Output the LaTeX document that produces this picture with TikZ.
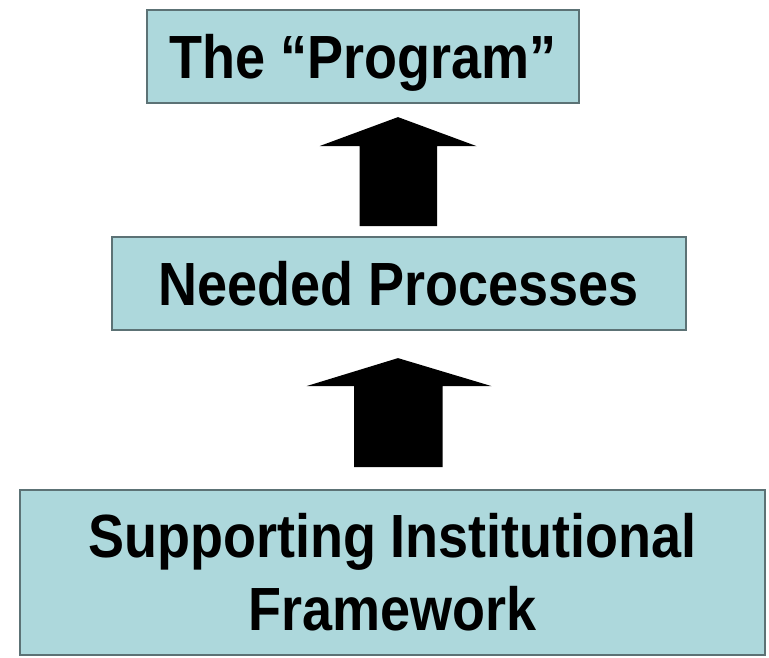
\documentclass[tikz,border=0pt]{standalone}
\usepackage{fontspec}
\setmainfont{Liberation Sans}[FakeStretch=0.885]
\definecolor{boxfill}{RGB}{173,216,220}
\definecolor{boxline}{RGB}{92,114,117}
\begin{document}
\begin{tikzpicture}[x=1pt,y=-1pt,
  box/.style={draw=boxline, line width=2.2pt, fill=boxfill, rectangle,
    inner sep=0pt, align=center,
    font=\fontsize{61}{73}\selectfont\bfseries},
  oneline/.style={text height=43pt, text depth=0pt},
  blockarrow/.style={fill=black}]
\useasboundingbox (0,0) rectangle (769,657);
\node[box, oneline, minimum width=432pt, minimum height=93pt] (prog) at (363,56.5) {The “Program”};
\node[box, oneline, minimum width=574pt, minimum height=93pt] (proc) at (399,283.5) {Needed Processes};
\node[box, minimum width=745pt, minimum height=165pt] (frame) at (392.5,572.5) {Supporting Institutional\\Framework};
% arrow 1: from proc up to prog
\coordinate (a1tip) at ([yshift=-13pt]prog.south -| 398,0);
\coordinate (a2tip) at ([yshift=-27pt]proc.south -| 398,0);
\fill[blockarrow, shift={(a1tip)}] (0,0) -- (78.5,29) -- (39,29) -- (39,109) -- (-38.5,109) -- (-38.5,29) -- (-78.5,29) -- cycle;
\fill[blockarrow, shift={(a2tip)}] (0,0) -- (93.5,28) -- (44.5,28) -- (44.5,109) -- (-44,109) -- (-44,28) -- (-91.5,28) -- cycle;
\end{tikzpicture}
\end{document}
